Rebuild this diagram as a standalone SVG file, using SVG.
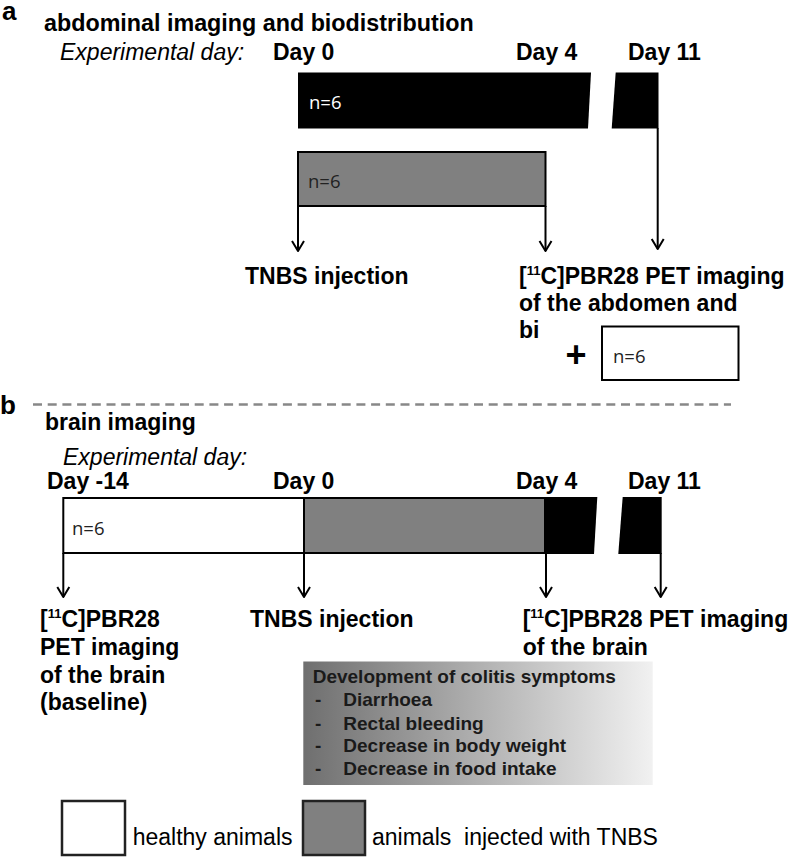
<svg xmlns="http://www.w3.org/2000/svg" width="793" height="860" viewBox="0 0 793 860">
<style>
  .lbl{font-family:"Liberation Sans",Arial,sans-serif;font-weight:bold;font-size:23px;fill:#000}
  .pl{font-family:"Liberation Sans",Arial,sans-serif;font-weight:bold;font-size:26px;fill:#000}
  .it{font-family:"Liberation Sans",Arial,sans-serif;font-style:italic;font-size:23px;fill:#000}
  .reg{font-family:"Liberation Sans",Arial,sans-serif;font-size:23px;fill:#000}
  .sup{font-size:13px}
  .n{font-family:"Open Sans","Noto Sans",sans-serif;font-size:18.5px;fill:#222}
  .nw{font-family:"Open Sans","Noto Sans",sans-serif;font-size:18.5px;fill:#fff}
  .sym{font-family:"Liberation Sans",Arial,sans-serif;font-weight:bold;font-size:19px;fill:#1a1a1a}
  .box{stroke:#000;stroke-width:2}
  .arrow{stroke:#000;stroke-width:2;fill:none;marker-end:url(#ah)}
</style>
<defs>
  <marker id="ah" viewBox="-12 -8 14 16" markerWidth="14" markerHeight="16" refX="0" refY="0" orient="auto" markerUnits="userSpaceOnUse">
    <path d="M-10,-6 L0,0 L-10,6" fill="none" stroke="#000" stroke-width="2" stroke-linejoin="round"/>
  </marker>
  <linearGradient id="symg" x1="0" y1="0" x2="1" y2="0">
    <stop offset="0" stop-color="#6f6f6f"/>
    <stop offset="1" stop-color="#f1f1f1"/>
  </linearGradient>
</defs>

<!-- Panel a -->
<g id="panel-a-header">
  <text class="pl" x="2" y="20">a</text>
  <text class="lbl" x="44" y="30.5" style="font-size:23.3px">abdominal imaging and biodistribution</text>
  <text class="it" x="60" y="60">Experimental day:</text>
  <text class="lbl" x="273" y="60">Day 0</text>
  <text class="lbl" x="516" y="60">Day 4</text>
  <text class="lbl" x="628" y="60">Day 11</text>
</g>

<g id="a-tnbs-bar">
  <polygon points="298,72.5 591,72.5 588,128.5 298,128.5" fill="#000"/>
  <polygon points="615.7,72.5 658.5,72.5 658.5,128.5 611.7,128.5" fill="#000"/>
  <text class="nw" x="309" y="109">n=6</text>
</g>

<g id="a-grey-group">
  <rect class="box" x="298" y="152" width="247.5" height="54" fill="#808080"/>
  <text class="n" x="308" y="188">n=6</text>
</g>

<g id="a-label-tnbs">
  <text class="lbl" x="245" y="284">TNBS injection</text>
</g>

<g id="a-label-pet">
  <text class="lbl" x="519" y="283.5">[<tspan class="sup" dy="-9">11</tspan><tspan dy="9">C]PBR28 PET imaging</tspan></text>
  <text class="lbl" x="519" y="310.5">of the abdomen and</text>
  <text class="lbl" x="519" y="338">bi</text>
</g>

<g id="a-plus-box">
  <text class="lbl" x="576" y="367" text-anchor="middle" style="font-size:36px">+</text>
  <rect class="box" x="602" y="326.5" width="136.5" height="53.5" fill="#fff"/>
  <text class="n" x="613" y="362.5">n=6</text>
</g>

<!-- separator -->
<g id="separator">
  <line x1="33" y1="404.5" x2="731" y2="404.5" stroke="#888" stroke-width="2.5" stroke-dasharray="9 5.7"/>
</g>

<!-- Panel b -->
<g id="panel-b-header">
  <text class="pl" x="0" y="414">b</text>
  <text class="lbl" x="45" y="430">brain imaging</text>
  <text class="it" x="63" y="465">Experimental day:</text>
  <text class="lbl" x="47" y="488.5">Day -14</text>
  <text class="lbl" x="273" y="488.5">Day 0</text>
  <text class="lbl" x="516" y="488.5">Day 4</text>
  <text class="lbl" x="628" y="488.5">Day 11</text>
</g>

<g id="b-timeline">
  <rect class="box" x="63.3" y="498" width="240.7" height="55" fill="#fff"/>
  <rect class="box" x="304" y="498" width="241" height="55" fill="#808080"/>
  <polygon points="545,497 597.3,497 594,554 545,554" fill="#000"/>
  <polygon points="622.7,497 661.7,497 661.7,554 618.3,554" fill="#000"/>
  <text class="n" x="72" y="535">n=6</text>
</g>

<g id="b-label-baseline">
  <text class="lbl" x="40" y="626.7">[<tspan class="sup" dy="-9">11</tspan><tspan dy="9">C]PBR28</tspan></text>
  <text class="lbl" x="40" y="655">PET imaging</text>
  <text class="lbl" x="40" y="682.7">of the brain</text>
  <text class="lbl" x="40" y="710">(baseline)</text>
</g>

<g id="b-label-tnbs">
  <text class="lbl" x="250" y="626.7">TNBS injection</text>
</g>

<g id="b-label-pet">
  <text class="lbl" x="522.7" y="626.7">[<tspan class="sup" dy="-9">11</tspan><tspan dy="9">C]PBR28 PET imaging</tspan></text>
  <text class="lbl" x="522.7" y="654.5">of the brain</text>
</g>

<g id="b-symptoms">
  <rect x="303.3" y="661.5" width="349.4" height="123.5" fill="url(#symg)"/>
  <text class="sym" x="312.7" y="683.3">Development of colitis symptoms</text>
  <text class="sym" x="315" y="706">-</text><text class="sym" x="343.3" y="706">Diarrhoea</text>
  <text class="sym" x="315" y="729.5">-</text><text class="sym" x="343.3" y="729.5">Rectal bleeding</text>
  <text class="sym" x="315" y="752">-</text><text class="sym" x="343.3" y="752">Decrease in body weight</text>
  <text class="sym" x="315" y="775">-</text><text class="sym" x="343.3" y="775">Decrease in food intake</text>
</g>

<g id="legend">
  <rect x="62" y="801" width="63" height="54" fill="#fff" stroke="#222" stroke-width="2.5"/>
  <text class="reg" x="132.7" y="845">healthy animals</text>
  <rect x="303" y="801" width="62" height="54" fill="#808080" stroke="#222" stroke-width="2.5"/>
  <text class="reg" x="372" y="845" xml:space="preserve">animals  injected with TNBS</text>
</g>

<!-- connectors -->
<g id="connectors">
  <line class="arrow" x1="298" y1="206" x2="298" y2="251"/>
  <line class="arrow" x1="545.5" y1="206" x2="545.5" y2="251"/>
  <line class="arrow" x1="657.7" y1="128" x2="657.7" y2="249"/>
  <line class="arrow" x1="63.3" y1="553" x2="63.3" y2="597"/>
  <line class="arrow" x1="304" y1="553" x2="304" y2="597"/>
  <line class="arrow" x1="546" y1="553" x2="546" y2="597"/>
  <line class="arrow" x1="660.7" y1="553" x2="660.7" y2="597"/>
</g>
</svg>
